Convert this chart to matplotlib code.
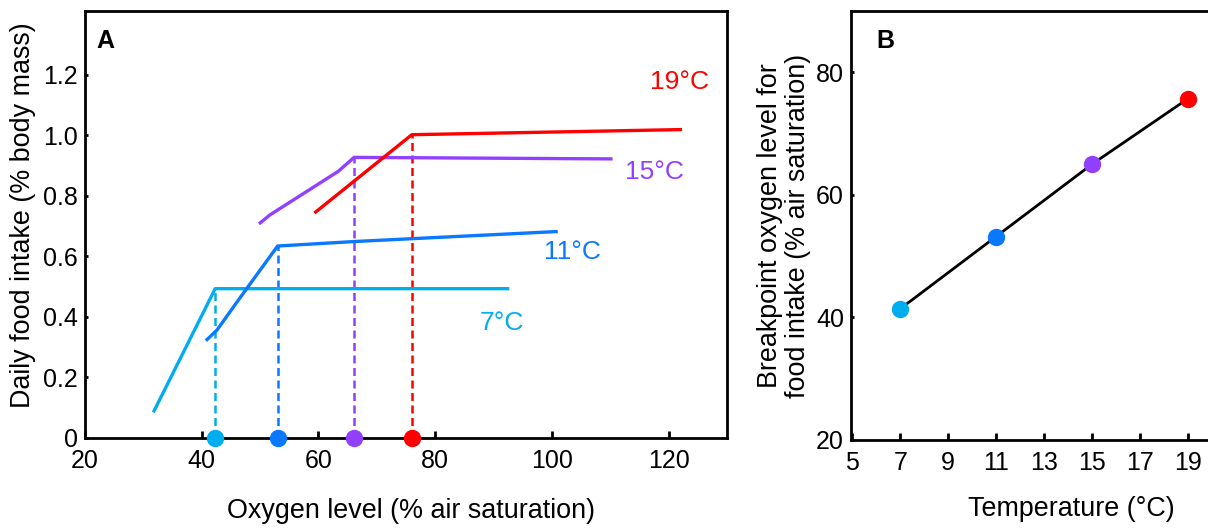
import matplotlib
matplotlib.use("Agg")
import matplotlib.pyplot as plt

plt.rcParams['font.family'] = ['Liberation Sans', 'DejaVu Sans']

# Panel A data: piecewise lines (oxygen %, food intake %)
temps = ["7°C", "11°C", "15°C", "19°C"]
colors = ["#00AEEF", "#0A78FF", "#9140FF", "#FF0000"]
x7 = [31.7, 42.3, 92.7]
y7 = [0.083, 0.492, 0.492]
x11 = [40.7, 42.6, 46.3, 53.0, 66.3, 101.0]
y11 = [0.320, 0.355, 0.455, 0.633, 0.648, 0.681]
x15 = [49.8, 51.7, 63.4, 66.1, 110.4]
y15 = [0.706, 0.736, 0.880, 0.926, 0.921]
x19 = [59.3, 76.0, 122.3]
y19 = [0.742, 1.001, 1.018]
breakpoints_x = [42.3, 53.0, 66.1, 76.0]
breakpoints_y = [0.492, 0.633, 0.926, 1.001]
label_pos_x = [91.4, 103.6, 117.5, 121.8]
label_pos_y = [0.377, 0.613, 0.877, 1.174]

# Panel B data
temperature = [7, 11, 15, 19]
breakpoint_o2 = [41.4, 53.2, 65.0, 75.7]

fig = plt.figure(figsize=(12.08, 5.28), dpi=100)
axA = fig.add_axes([0.0704, 0.1714, 0.5314, 0.8078])
axB = fig.add_axes([0.7045, 0.1667, 0.2988, 0.8125])

FS = 18
FL = 19.4
lw_sp = 2.0

series = [(x7, y7), (x11, y11), (x15, y15), (x19, y19)]
for (xs, ys), c in zip(series, colors):
    axA.plot(xs, ys, color=c, lw=2.4, solid_capstyle='butt', zorder=3)
for bx, by, c in zip(breakpoints_x, breakpoints_y, colors):
    axA.plot([bx, bx], [0, by], color=c, lw=1.8, ls=(0, (3.2, 1.8)), zorder=2)
    axA.plot([bx], [0], 'o', color=c, ms=11.5, clip_on=False, zorder=5)
for t, lx, ly, c in zip(temps, label_pos_x, label_pos_y, colors):
    axA.text(lx, ly, t, color=c, fontsize=19, ha='center', va='center')

axA.set_xlim(20, 130)
axA.set_ylim(0, 1.41)
axA.set_xticks([20, 40, 60, 80, 100, 120])
axA.set_yticks([0, 0.2, 0.4, 0.6, 0.8, 1.0, 1.2])
axA.set_yticklabels(["0", "0.2", "0.4", "0.6", "0.8", "1.0", "1.2"])
axA.tick_params(axis='x', direction='in', length=5, width=lw_sp, labelsize=FS, pad=8)
axA.tick_params(axis='y', direction='in', length=2, width=lw_sp, labelsize=FS, pad=5)
axA.set_xlabel("Oxygen level (% air saturation)", fontsize=FL)
axA.xaxis.set_label_coords(0.508, -0.143)
axA.set_ylabel("Daily food intake (% body mass)", fontsize=FL)
axA.yaxis.set_label_coords(-0.076, 0.522)
axA.text(0.018, 0.93, "A", transform=axA.transAxes, fontsize=FS, fontweight='bold',
         ha='left', va='center')
for sp in axA.spines.values():
    sp.set_linewidth(lw_sp)

axB.plot(temperature, breakpoint_o2, color='black', lw=2.0, zorder=2)
for t, b, c in zip(temperature, breakpoint_o2, colors):
    axB.plot([t], [b], 'o', color=c, ms=11.5, zorder=3, clip_on=False)
axB.set_xlim(4.95, 20)
axB.set_ylim(20, 90)
axB.set_xticks([5, 7, 9, 11, 13, 15, 17, 19])
axB.set_yticks([20, 40, 60, 80])
axB.tick_params(axis='x', direction='in', length=5, width=lw_sp, labelsize=FS, pad=8)
axB.tick_params(axis='y', direction='in', length=2, width=lw_sp, labelsize=FS, pad=5)
axB.set_xlabel("Temperature (°C)", fontsize=FL)
axB.xaxis.set_label_coords(0.61, -0.13)
axB.set_ylabel("Breakpoint oxygen level for\nfood intake (% air saturation)", fontsize=FL,
               linespacing=1.1)
axB.yaxis.set_label_coords(-0.11, 0.5)
axB.text(0.07, 0.93, "B", transform=axB.transAxes, fontsize=FS, fontweight='bold',
         ha='left', va='center')
for sp in axB.spines.values():
    sp.set_linewidth(lw_sp)

fig.savefig("out.png", dpi=100)
